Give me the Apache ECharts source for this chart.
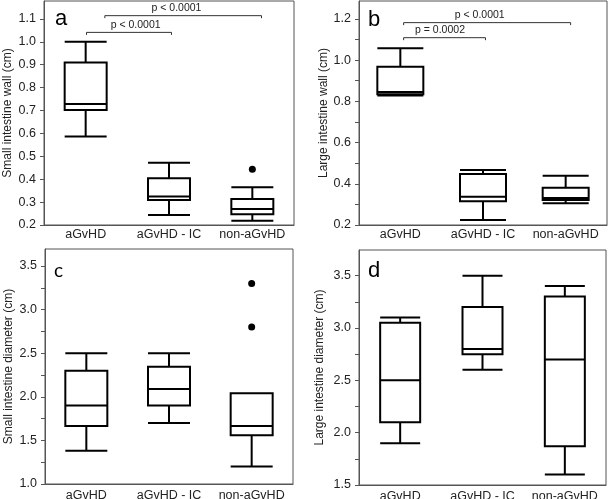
<!DOCTYPE html>
<html><head><meta charset="utf-8">
<script src="https://cdn.jsdelivr.net/npm/echarts@6/dist/echarts.min.js"></script>
<style>html,body{margin:0;padding:0;background:#fff}#c{width:609px;height:499px}</style>
</head><body><div id="c"></div>
<script>
// ---------- data ----------
const categories = ['aGvHD', 'aGvHD - IC', 'non-aGvHD'];
// each box: [lower whisker, Q1, median, Q3, upper whisker]
const smallWallBoxes = [[0.586, 0.702, 0.728, 0.910, 1.000], [0.244, 0.309, 0.324, 0.404, 0.472], [0.219, 0.247, 0.270, 0.314, 0.365]];
const smallWallOutliers = [[2, 0.443]];
const largeWallBoxes = [[0.828, 0.835, 0.845, 0.968, 1.058], [0.224, 0.315, 0.337, 0.448, 0.467], [0.305, 0.321, 0.331, 0.381, 0.439]];
const largeWallOutliers = [];
const smallDiamBoxes = [[1.38, 1.665, 1.90, 2.30, 2.50], [1.70, 1.90, 2.09, 2.345, 2.50], [1.20, 1.558, 1.665, 2.04, 2.04]];
const smallDiamOutliers = [[2, 2.80], [2, 3.30]];
const largeDiamBoxes = [[1.90, 2.10, 2.50, 3.05, 3.10], [2.60, 2.75, 2.80, 3.20, 3.50], [1.60, 1.87, 2.70, 3.30, 3.40]];
const largeDiamOutliers = [];

// tick values and tick labels
const aTicks = [0.2, 0.3, 0.4, 0.5, 0.6, 0.7, 0.8, 0.9, 1.0, 1.1];
const aLabels = [0.2, 0.3, 0.4, 0.5, 0.6, 0.7, 0.8, 0.9, 1.0, 1.1];
const bTicks = [0.2, 0.3, 0.4, 0.5, 0.6, 0.7, 0.8, 0.9, 1.0, 1.1, 1.2];
const bLabels = [0.2, 0.4, 0.6, 0.8, 1.0, 1.2];
const cTicks = [1.0, 1.25, 1.5, 1.75, 2.0, 2.25, 2.5, 2.75, 3.0, 3.25, 3.5];
const cLabels = [1.0, 1.5, 2.0, 2.5, 3.0, 3.5];
const dTicks = [1.5, 1.75, 2.0, 2.25, 2.5, 2.75, 3.0, 3.25, 3.5];
const dLabels = [1.5, 2.0, 2.5, 3.0, 3.5];

// significance annotations: [from category, to category, y value, text category position, text]
const aBrackets = [[0.01, 1.03, 1.041, 0.60, 'p < 0.0001'], [0.23, 2.11, 1.114, 1.09, 'p < 0.0001']];
const bBrackets = [[0.04, 1.03, 1.109, 0.48, 'p = 0.0002'], [0.04, 2.06, 1.182, 0.96, 'p < 0.0001']];

// ---------- chart ----------
const FONT = '"Liberation Sans", Arial, sans-serif';
const panels = [
  {grid: {left: 44, top: 1, width: 250, height: 224}, min: 0.2, max: 1.178, ticks: aTicks, labels: aLabels,
   name: 'Small intestine wall (cm)', nameGap: 30, boxes: smallWallBoxes, outliers: smallWallOutliers, brackets: aBrackets, boxW: 42, xMargin: 3},
  {grid: {left: 359, top: 1, width: 248, height: 224}, min: 0.2, max: 1.287, ticks: bTicks, labels: bLabels,
   name: 'Large intestine wall (cm)', nameGap: 26, boxes: largeWallBoxes, outliers: largeWallOutliers, brackets: bBrackets, boxW: 46, xMargin: 3},
  {grid: {left: 45, top: 249, width: 248, height: 235}, min: 1.0, max: 3.695, ticks: cTicks, labels: cLabels,
   name: 'Small intestine diameter (cm)', nameGap: 30, boxes: smallDiamBoxes, outliers: smallDiamOutliers, brackets: [], boxW: 42, xMargin: 5},
  {grid: {left: 359, top: 250, width: 247, height: 235}, min: 1.5, max: 3.745, ticks: dTicks, labels: dLabels,
   name: 'Large intestine diameter (cm)', nameGap: 33, boxes: largeDiamBoxes, outliers: largeDiamOutliers, brackets: [], boxW: 40, xMargin: 5}
];

const option = {
  animation: false,
  grid: [], xAxis: [], yAxis: [], series: [],
  graphic: [
    {type: 'text', x: 55, y: 19, style: {text: 'a', fontSize: 22, fontFamily: FONT, fill: '#000', verticalAlign: 'middle'}},
    {type: 'text', x: 368, y: 20, style: {text: 'b', fontSize: 22, fontFamily: FONT, fill: '#000', verticalAlign: 'middle'}},
    {type: 'text', x: 54, y: 271, style: {text: 'c', fontSize: 19, fontFamily: 'Lato, "Open Sans", sans-serif', fill: '#000', verticalAlign: 'middle'}},
    {type: 'text', x: 368, y: 271, style: {text: 'd', fontSize: 22, fontFamily: FONT, fill: '#000', verticalAlign: 'middle'}}
  ]
};

panels.forEach((p, i) => {
  option.grid.push(Object.assign({show: true, borderColor: '#555', borderWidth: 1, backgroundColor: '#fff', containLabel: false, outerBoundsMode: 'none'}, p.grid));
  option.xAxis.push({
    type: 'category', gridIndex: i, data: categories, boundaryGap: true,
    axisLine: {lineStyle: {color: '#555', width: 1}},
    axisTick: {show: false},
    axisLabel: {color: '#222', fontSize: 12.5, fontFamily: FONT, margin: p.xMargin, interval: 0},
    splitLine: {show: false}
  });
  option.yAxis.push({
    type: 'value', gridIndex: i, min: p.min, max: p.max,
    axisLine: {show: true, lineStyle: {color: '#555', width: 1}},
    axisTick: {show: true, length: 4, lineStyle: {color: '#555'}, customValues: p.ticks},
    axisLabel: {color: '#222', fontSize: 12.5, fontFamily: FONT, margin: 8, customValues: p.labels,
                formatter: v => Number(v).toFixed(1)},
    splitLine: {show: false},
    name: p.name, nameLocation: 'middle', nameGap: p.nameGap,
    nameTextStyle: {color: '#222', fontSize: 12, fontFamily: FONT}
  });
  option.series.push({
    type: 'boxplot', xAxisIndex: i, yAxisIndex: i, data: p.boxes, silent: true,
    boxWidth: [p.boxW, p.boxW],
    itemStyle: {color: '#fff', borderColor: '#000', borderWidth: 2},
    emphasis: {disabled: true}
  });
  if (p.outliers.length) {
    option.series.push({
      type: 'scatter', xAxisIndex: i, yAxisIndex: i, data: p.outliers, silent: true,
      symbol: 'circle', symbolSize: 7, itemStyle: {color: '#000', opacity: 1}
    });
  }
  if (p.brackets.length) {
    option.series.push({
      type: 'custom', xAxisIndex: i, yAxisIndex: i, silent: true, clip: false,
      data: p.brackets.map(b => [b[0], b[2], b[1], b[3]]),
      encode: {x: 0, y: 1},
      renderItem: (params, api) => {
        const b = p.brackets[params.dataIndex];
        const y = b[2];
        const c0 = api.coord([0, y]);
        const c1 = api.coord([1, y]);
        const band = c1[0] - c0[0];
        const x1 = c0[0] + b[0] * band;
        const x2 = c0[0] + b[1] * band;
        const py = c0[1];
        const tx = c0[0] + b[3] * band;
        return {
          type: 'group',
          children: [
            {type: 'polyline', shape: {points: [[x1, py + 2.5], [x1, py], [x2, py], [x2, py + 2.5]]},
             style: {stroke: '#333', lineWidth: 1, fill: null}},
            {type: 'text', x: tx, y: py - 2,
             style: {text: b[4], fontSize: 10.5, fontFamily: FONT, fill: '#222', align: 'center', verticalAlign: 'bottom'}}
          ]
        };
      }
    });
  }
});

const chart = echarts.init(document.getElementById('c'), null, {renderer: 'canvas'});
chart.setOption(option);
</script>
</body></html>
